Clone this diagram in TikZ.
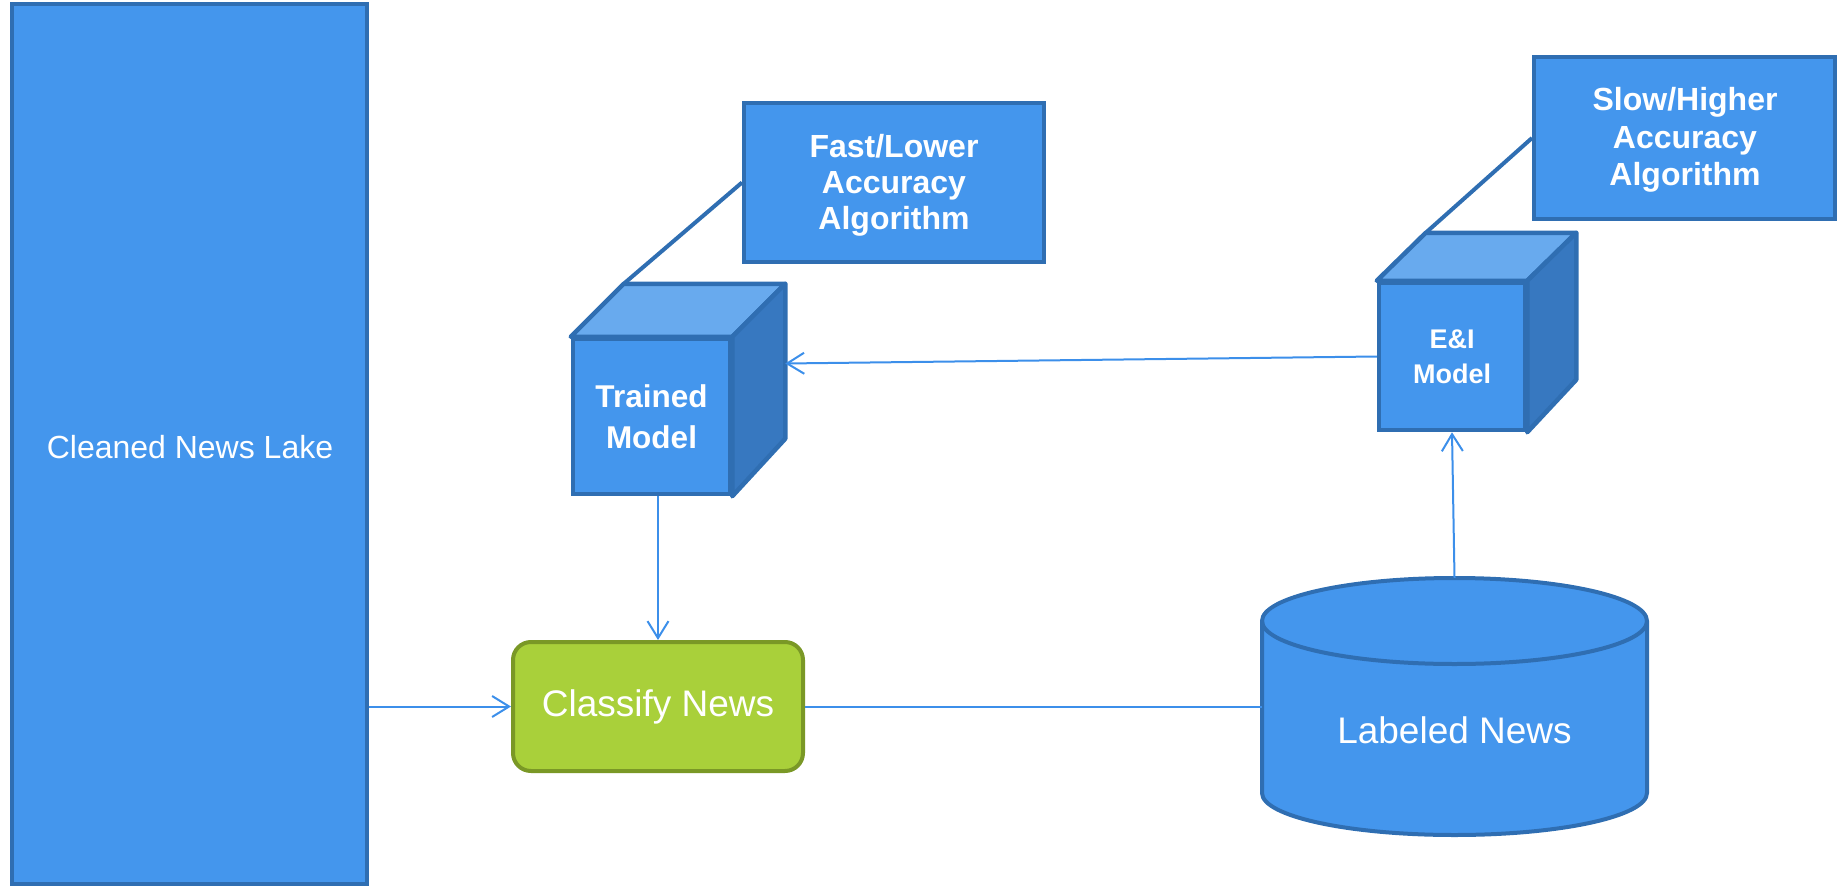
\documentclass[tikz,border=0pt]{standalone}
\usepackage{fontspec}
\setmainfont{Liberation Sans}
\usetikzlibrary{arrows.meta,calc}

\definecolor{boxblue}{RGB}{68,150,237}
\definecolor{edgeblue}{RGB}{47,110,178}
\definecolor{topblue}{RGB}{104,170,238}
\definecolor{sideblue}{RGB}{55,120,192}
\definecolor{wireblue}{RGB}{60,143,234}
\definecolor{leaf}{RGB}{169,208,58}
\definecolor{leafedge}{RGB}{122,152,38}

\begin{document}
\begin{tikzpicture}[x=1pt,y=-1pt,
  panel/.style={draw=edgeblue, fill=boxblue, line width=4pt, text=white,
    inner sep=0pt, align=center},
  cubefront/.style={panel, line width=4.5pt, font=\bfseries},
  cubetop/.style={draw=edgeblue, fill=topblue, line width=4.5pt, line join=round},
  cubeside/.style={draw=edgeblue, fill=sideblue, line width=4.5pt, line join=round},
  tether/.style={draw=edgeblue, line width=4pt},
  flow/.style={draw=wireblue, line width=2pt},
  flowarrow/.style={flow, -{Straight Barb[length=17pt,width=21pt,line width=2pt]}},
  actbox/.style={draw=leafedge, fill=leaf, line width=4pt, rounded corners=18pt,
    text=white, inner sep=0pt}
]
\useasboundingbox (0,0) rectangle (1837,886);

% data lake column
\node[panel, line width=3.5pt, minimum width=355pt, minimum height=880pt]
  (lake) at (189.5,444) {};
\node[text=white, font=\fontsize{32}{38}\selectfont] (lakelabel) at (190,447)
  {Cleaned News Lake};

% trained model cube
\node[cubefront, minimum width=157pt, minimum height=155pt,
  font=\bfseries\fontsize{31.5}{41}\selectfont] (tm) at (651.5,416.5)
  {Trained\\Model};
\draw[cubetop] (tm.north west) -- ++(53,-53) -- ($(tm.north east)+(53,-53)$)
  -- (tm.north east) -- cycle;
\draw[cubeside] (tm.north east) -- ++(53,-53) -- ++(0,155) -- (tm.south east) -- cycle;
\coordinate (tmcorner) at ($(tm.north west)+(53,-53)$);
\coordinate (tmback) at ($(tm.east)+(53,-53)$);

% E&I model cube
\node[cubefront, minimum width=146pt, minimum height=147pt,
  font=\bfseries\fontsize{27}{35}\selectfont] (ei) at (1452,356.5)
  {E\&I\\Model};
\draw[cubetop] (ei.north west) -- ++(49,-48) -- ($(ei.north east)+(49,-48)$)
  -- (ei.north east) -- cycle;
\draw[cubeside] (ei.north east) -- ++(49,-48) -- ++(0,147) -- (ei.south east) -- cycle;
\coordinate (eicorner) at ($(ei.north west)+(49,-48)$);

% algorithm boxes
\node[panel, minimum width=300pt, minimum height=159pt] (fast) at (894,182.5) {};
\node[text=white, align=center, font=\bfseries\fontsize{32}{36}\selectfont]
  (fastlabel) at (894,185) {Fast/Lower\\Accuracy\\Algorithm};
\node[panel, minimum width=301pt, minimum height=162pt] (slow) at (1684.5,138) {};
\node[text=white, align=center, font=\bfseries\fontsize{32}{37.5}\selectfont]
  (slowlabel) at (1685,140) {Slow/Higher\\Accuracy\\Algorithm};

% classification step
\node[actbox, minimum width=290pt, minimum height=129pt,
  font=\fontsize{37}{44}\selectfont] (cn) at (658,706.5) {Classify News};

% labeled news store
\node[minimum width=385pt, minimum height=257pt, inner sep=0pt] (ln) at (1454.5,706.5) {};
\filldraw[draw=edgeblue, fill=boxblue, line width=4pt]
  (1262,621) -- (1262,793) arc[start angle=180, end angle=360, x radius=192.5pt, y radius=42pt]
  -- (1647,621) arc[start angle=0, end angle=180, x radius=192.5pt, y radius=43pt] -- cycle;
\draw[edgeblue, line width=4pt]
  (1262,621) arc[start angle=180, end angle=360, x radius=192.5pt, y radius=43pt];
\node[text=white, font=\fontsize{37}{44}\selectfont] (lnlabel) at (1454.5,730) {Labeled News};

% tethers between algorithms and models
\draw[tether] (fast.west) -- (tmcorner);
\draw[tether] (slow.west) -- (eicorner);

% data flow
\draw[flowarrow] (cn.west -| lake.east) -- (cn.west);
\draw[flowarrow] (tm.south -| cn.north) -- (cn.north);
\draw[flow] (cn.east) -- (ln.west);
\draw[flowarrow] (ln.north) -- (ei.south);
\draw[flowarrow] (ei.west) -- (tmback);
\end{tikzpicture}
\end{document}
